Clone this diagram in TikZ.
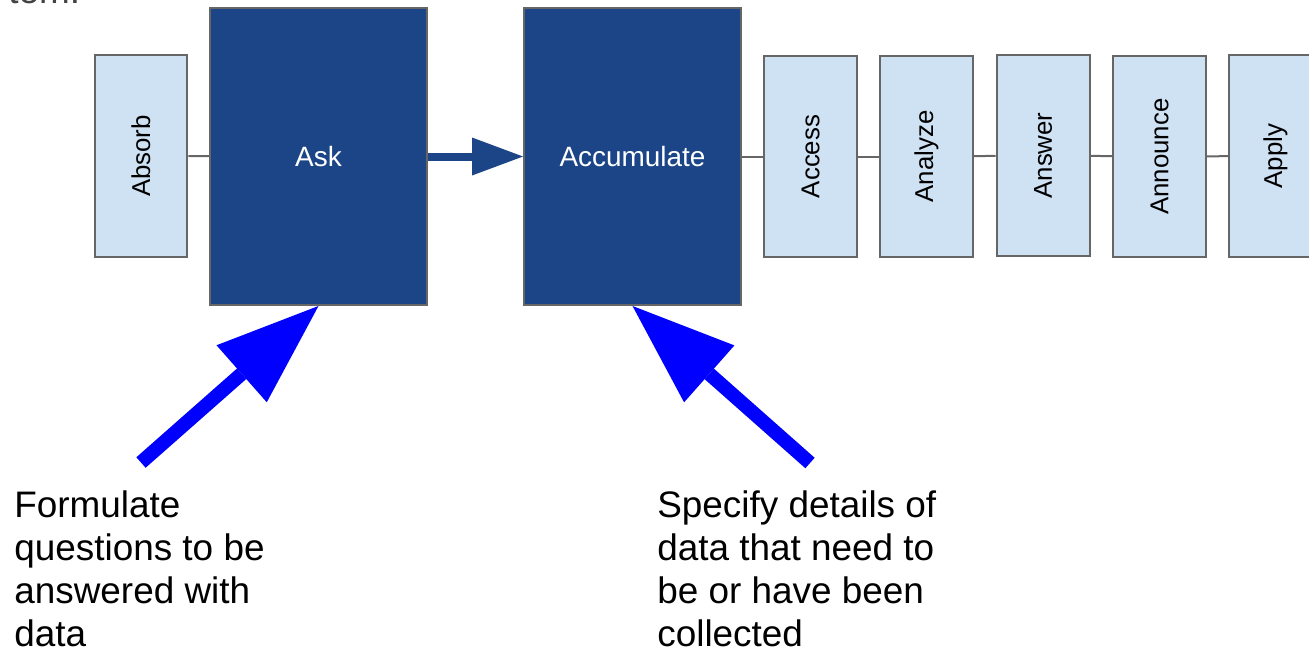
\documentclass[tikz,border=0pt]{standalone}
\usepackage{fontspec}
\setmainfont{Liberation Sans}
\usetikzlibrary{arrows.meta}
\definecolor{lightb}{HTML}{CFE2F3}
\definecolor{darkb}{HTML}{1C4587}
\definecolor{edgegray}{HTML}{666666}
\definecolor{pureblue}{HTML}{0000FF}
\definecolor{titlegray}{HTML}{434343}
\begin{document}
\begin{tikzpicture}[x=0.02cm,y=-0.02cm,
  smallbox/.style={draw=edgegray, line width=0.04cm, fill=lightb, minimum width=1.86cm, minimum height=4.04cm, inner sep=0pt, font=\fontsize{14.7}{17}\selectfont},
  bigbox/.style={draw=edgegray, line width=0.04cm, fill=darkb, minimum width=4.34cm, minimum height=5.94cm, inner sep=0pt, text=white, font=\fontsize{15.9}{19}\selectfont},
  link/.style={draw=edgegray, line width=0.04cm},
  callout/.style={pureblue, line width=0.28cm, -{Triangle[length=2.05cm,width=1.52cm,line width=0pt]}},
  flow/.style={darkb, line width=0.16cm, -{Triangle[length=1.02cm,width=0.76cm,line width=0pt]}},
  note/.style={anchor=base west, align=left, inner sep=0pt, font=\fontsize{21}{24.4}\selectfont},
  cut/.style={anchor=base west, inner sep=0pt, text=titlegray, font=\fontsize{21}{24}\selectfont}
]
\useasboundingbox (0,0) rectangle (1309,650);
\clip (0,0) rectangle (1309,650);

\node[cut] (title) at (8,3) {tem.};

\node[smallbox] (absorb) at (141,156) {\rotatebox{90}{Absorb}};
\node[bigbox] (ask) at (318.5,156.5) {Ask};
\node[bigbox] (acc) at (632.5,156.5) {Accumulate};
\node[smallbox] (access) at (810.5,156.5) {\rotatebox{90}{Access}};
\node[smallbox] (analyze) at (926.5,156.5) {\rotatebox{90}{Analyze}};
\node[smallbox] (answer) at (1043,155.5) {\rotatebox{90}{Answer}};
\node[smallbox] (announce) at (1159.5,156.5) {\rotatebox{90}{Announce}};
\node[smallbox] (apply) at (1275.5,156) {\rotatebox{90}{Apply}};

\draw[link] (absorb) -- (ask);
\draw[link] (acc) -- (access);
\draw[link] (access) -- (analyze);
\draw[link] (analyze) -- (answer);
\draw[link] (answer) -- (announce);
\draw[link] (announce) -- (apply);

\draw[flow] (ask) -- (acc);

\coordinate (c1) at (141,462.5);
\coordinate (c2) at (810,463);
\draw[callout] (c1) -- (ask.south);
\draw[callout] (c2) -- (acc.south);

\node[note] (n1) at (14,646) {Formulate\\questions to be\\answered with\\data};
\node[note] (n2) at (657,646) {Specify details of\\data that need to\\be or have been\\collected};
\end{tikzpicture}
\end{document}
